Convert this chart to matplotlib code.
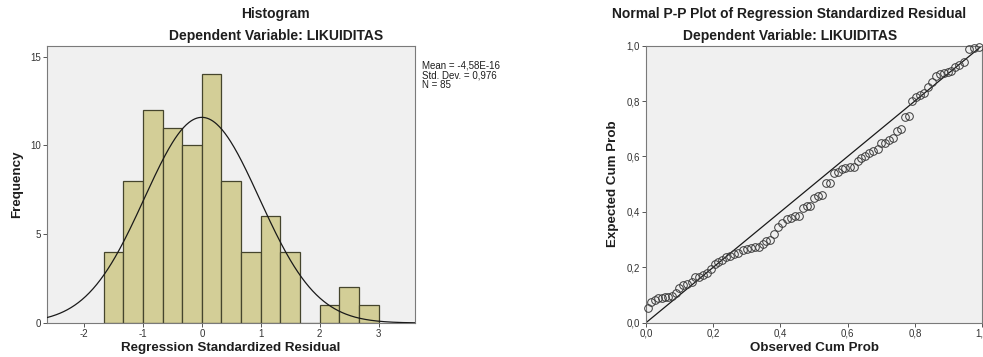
import numpy as np
import matplotlib
matplotlib.use("Agg")
import matplotlib.pyplot as plt

plt.rcParams["font.family"] = ["Liberation Sans", "DejaVu Sans"]
plt.rcParams["axes.unicode_minus"] = False

# Histogram data (bin width 1/3)
bin_edges = [-5/3, -4/3, -1, -2/3, -1/3, 0, 1/3, 2/3, 1, 4/3, 5/3, 2, 7/3, 8/3, 3]
counts = [4, 8, 12, 11, 10, 14, 8, 4, 6, 4, 0, 1, 2, 1]
MEAN, SD, N = -4.58e-16, 0.976, 85

# P-P plot points
obs_cum = [0.007, 0.015, 0.027, 0.037, 0.047, 0.057, 0.066, 0.076, 0.089, 0.099,
           0.111, 0.123, 0.136, 0.147, 0.158, 0.169, 0.181, 0.193, 0.204, 0.215,
           0.227, 0.238, 0.250, 0.262, 0.275, 0.288, 0.300, 0.312, 0.324, 0.335,
           0.347, 0.357, 0.369, 0.382, 0.394, 0.406, 0.419, 0.431, 0.443, 0.456,
           0.466, 0.479, 0.489, 0.500, 0.513, 0.523, 0.535, 0.547, 0.558, 0.570,
           0.582, 0.593, 0.606, 0.618, 0.630, 0.641, 0.652, 0.664, 0.677, 0.689,
           0.699, 0.712, 0.724, 0.735, 0.747, 0.759, 0.770, 0.782, 0.791, 0.804,
           0.816, 0.828, 0.839, 0.851, 0.863, 0.874, 0.886, 0.898, 0.909, 0.921,
           0.932, 0.945, 0.960, 0.975, 0.990]
exp_cum = [0.054, 0.076, 0.082, 0.088, 0.090, 0.094, 0.094, 0.096, 0.106, 0.124,
           0.136, 0.138, 0.148, 0.164, 0.166, 0.172, 0.178, 0.193, 0.211, 0.218,
           0.226, 0.238, 0.242, 0.248, 0.253, 0.262, 0.267, 0.271, 0.272, 0.274,
           0.285, 0.295, 0.298, 0.320, 0.347, 0.359, 0.374, 0.377, 0.385, 0.385,
           0.413, 0.422, 0.422, 0.449, 0.458, 0.461, 0.503, 0.503, 0.542, 0.544,
           0.554, 0.558, 0.561, 0.563, 0.585, 0.593, 0.603, 0.611, 0.621, 0.628,
           0.650, 0.650, 0.659, 0.665, 0.693, 0.700, 0.741, 0.746, 0.800, 0.816,
           0.822, 0.830, 0.850, 0.870, 0.892, 0.896, 0.900, 0.906, 0.910, 0.922,
           0.930, 0.942, 0.987, 0.990, 0.996]

BG = "#f0f0f0"
BAR = "#d3ce97"
BAR_EDGE = "#45452d"
SPINE = "#7a7a7a"
TXT = "#1e1e1e"
TITLE_FS = 10
LABEL_FS = 9.6


def style_axes(ax):
    ax.set_facecolor(BG)
    for s in ax.spines.values():
        s.set_color(SPINE)
        s.set_linewidth(0.8)
    ax.tick_params(direction="out", length=3, width=0.7, color="#555555",
                   labelsize=7, labelcolor="#333333", pad=1.5)


fig = plt.figure(figsize=(9.83, 3.57), dpi=100)

# ---- Histogram ----
ax1 = fig.add_axes([0.0478, 0.0952, 0.3744, 0.776])
style_axes(ax1)
edges = np.array(bin_edges)
ax1.bar(edges[:-1], counts, width=np.diff(edges), align="edge",
        color=BAR, edgecolor=BAR_EDGE, linewidth=0.9, zorder=2)
xs = np.linspace(-2.63, 3.62, 400)
pdf = np.exp(-0.5 * ((xs - MEAN) / SD) ** 2) / (SD * np.sqrt(2 * np.pi))
ax1.plot(xs, N * (1 / 3) * pdf, color="#1a1a1a", lw=0.9, zorder=3)
ax1.set_xlim(-2.63, 3.62)
ax1.set_ylim(0, 15.6)
ax1.set_xticks([-2, -1, 0, 1, 2, 3])
ax1.set_yticks([0, 5, 10, 15])
ax1.set_xlabel("Regression Standardized Residual", fontsize=LABEL_FS, fontweight="bold",
               color=TXT, labelpad=2)
ax1.set_ylabel("Frequency", fontsize=LABEL_FS, fontweight="bold", color=TXT, labelpad=5)
fig.text(275 / 983, 1 - 14 / 357, "Histogram", ha="center", va="center",
         fontsize=TITLE_FS, fontweight="bold", color=TXT)
fig.text(276 / 983, 1 - 36 / 357, "Dependent Variable: LIKUIDITAS", ha="center",
         va="center", fontsize=TITLE_FS, fontweight="bold", color=TXT)
fig.text(422 / 983, 1 - 61 / 357, "Mean = -4,58E-16\nStd. Dev. = 0,976\nN = 85",
         ha="left", va="top", fontsize=7, color=TXT, linespacing=0.95)

# ---- P-P plot ----
ax2 = fig.add_axes([0.6572, 0.0961, 0.3418, 0.776])
style_axes(ax2)
ax2.plot([0, 1], [0, 1], color="#1a1a1a", lw=0.9, zorder=2)
ax2.plot(obs_cum, exp_cum, ls="none", marker="o", ms=5.5, mfc="none",
         mec="#3a3a3a", mew=0.7, zorder=3, clip_on=False)
ax2.set_xlim(0, 1)
ax2.set_ylim(0, 1)
ticks = [0, 0.2, 0.4, 0.6, 0.8, 1.0]
labels = ["0,0", "0,2", "0,4", "0,6", "0,8", "1,0"]
ax2.set_xticks(ticks)
ax2.set_xticklabels(labels)
ax2.set_yticks(ticks)
ax2.set_yticklabels(labels)
ax2.set_xlabel("Observed Cum Prob", fontsize=LABEL_FS, fontweight="bold", color=TXT, labelpad=2)
ax2.set_ylabel("Expected Cum Prob", fontsize=LABEL_FS, fontweight="bold", color=TXT, labelpad=5)
fig.text(789 / 983, 1 - 14 / 357, "Normal P-P Plot of Regression Standardized Residual",
         ha="center", va="center", fontsize=TITLE_FS, fontweight="bold", color=TXT)
fig.text(790 / 983, 1 - 36 / 357, "Dependent Variable: LIKUIDITAS", ha="center",
         va="center", fontsize=TITLE_FS, fontweight="bold", color=TXT)

fig.savefig("out.png", dpi=100)
